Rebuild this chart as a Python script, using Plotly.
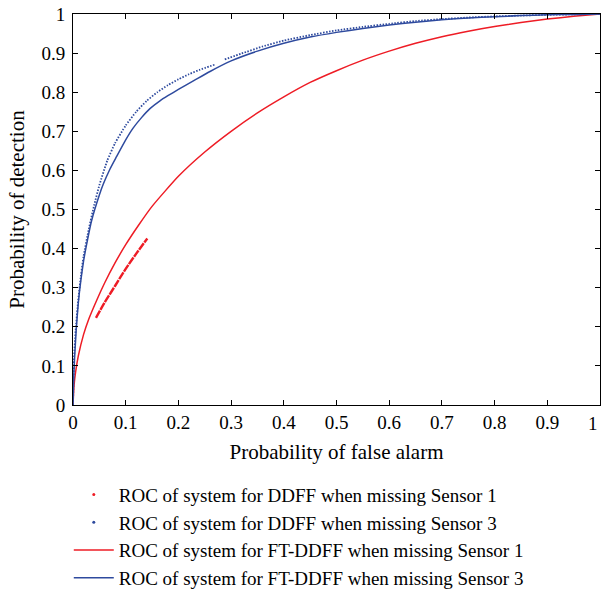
import plotly.graph_objects as go

# ---- data ----
# FT-DDFF, missing Sensor 1 (red solid)
ft_s1_x = [0, 0.002, 0.005, 0.01, 0.02, 0.03, 0.045, 0.06, 0.08, 0.1, 0.125, 0.15, 0.2, 0.25,
           0.3, 0.35, 0.4, 0.45, 0.5, 0.55, 0.6, 0.65, 0.7, 0.75, 0.8, 0.85, 0.9, 0.95, 1.0]
ft_s1_y = [0, 0.05, 0.085, 0.125, 0.18, 0.22, 0.268, 0.312, 0.364, 0.41, 0.461, 0.508, 0.585, 0.647,
           0.70, 0.747, 0.788, 0.825, 0.855, 0.882, 0.905, 0.925, 0.942, 0.956, 0.968, 0.978, 0.987, 0.994, 1.0]

# DDFF, missing Sensor 1 (red dotted, short segment)
dd_s1_x = [0.0436, 0.06, 0.08, 0.1, 0.12, 0.141]
dd_s1_y = [0.223, 0.262, 0.305, 0.348, 0.387, 0.426]

# FT-DDFF, missing Sensor 3 (blue solid)
ft_s3_x = [0, 0.001, 0.003, 0.006, 0.01, 0.015, 0.02, 0.025, 0.035, 0.05, 0.0575, 0.07, 0.0826, 0.1,
           0.114, 0.13, 0.146, 0.165, 0.18, 0.2, 0.23, 0.26, 0.3, 0.35, 0.4, 0.45, 0.5, 0.55, 0.6,
           0.65, 0.7, 0.75, 0.8, 0.85, 0.9, 0.95, 1.0]
ft_s3_y = [0, 0.06, 0.12, 0.19, 0.26, 0.32, 0.368, 0.405, 0.47, 0.537, 0.565, 0.603, 0.635, 0.678,
           0.708, 0.735, 0.758, 0.778, 0.791, 0.807, 0.83, 0.853, 0.88, 0.905, 0.925, 0.941, 0.953,
           0.963, 0.972, 0.979, 0.985, 0.99, 0.993, 0.996, 0.998, 0.999, 1.0]

# DDFF, missing Sensor 3 (blue dotted, two segments)
dd_s3_x_a = [0, 0.002, 0.005, 0.01, 0.015, 0.02, 0.03, 0.04, 0.05, 0.065, 0.08, 0.1, 0.12, 0.14,
             0.16, 0.18, 0.2, 0.22, 0.24, 0.27]
dd_s3_y_a = [0, 0.12, 0.19, 0.27, 0.33, 0.38, 0.45, 0.51, 0.562, 0.625, 0.67, 0.715, 0.75, 0.778,
             0.80, 0.818, 0.833, 0.846, 0.857, 0.871]
dd_s3_x_b = [0.288, 0.32, 0.36, 0.4, 0.45, 0.5, 0.55, 0.6, 0.65, 0.7, 0.75, 0.8, 0.85, 0.9, 0.95, 1.0]
dd_s3_y_b = [0.884, 0.899, 0.917, 0.932, 0.946, 0.958, 0.967, 0.975, 0.982, 0.987, 0.991, 0.994,
             0.996, 0.998, 0.999, 1.0]

tick_vals = [0, 0.1, 0.2, 0.3, 0.4, 0.5, 0.6, 0.7, 0.8, 0.9, 1]
tick_text = ["0", "0.1", "0.2", "0.3", "0.4", "0.5", "0.6", "0.7", "0.8", "0.9", "1"]
# the last x label is drawn right-aligned at the axis end so it stays inside the page
x_tick_text = tick_text[:-1] + [""]

names = [
    "ROC of system for DDFF when missing Sensor 1",
    "ROC of system for DDFF when missing Sensor 3",
    "ROC of system for FT-DDFF when missing Sensor 1",
    "ROC of system for FT-DDFF when missing Sensor 3",
]

RED = "#EE1C25"
BLUE = "#2E4A9E"
FONT = "Liberation Serif"

fig = go.Figure()

# legend-only entries for the dotted (point-style) series
fig.add_trace(go.Scatter(x=[None], y=[None], mode="markers", name=names[0],
                         marker=dict(color=RED, size=3)))
fig.add_trace(go.Scatter(x=[None], y=[None], mode="markers", name=names[1],
                         marker=dict(color=BLUE, size=3)))

fig.add_trace(go.Scatter(x=ft_s1_x, y=ft_s1_y, mode="lines", name=names[2],
                         line=dict(color=RED, width=1.5, shape="spline", smoothing=0.5)))
fig.add_trace(go.Scatter(x=ft_s3_x, y=ft_s3_y, mode="lines", name=names[3],
                         line=dict(color=BLUE, width=1.5, shape="spline", smoothing=0.5)))

fig.add_trace(go.Scatter(x=dd_s1_x, y=dd_s1_y, mode="lines", showlegend=False,
                         line=dict(color=RED, width=2.4, dash="8px,1px", shape="spline")))
fig.add_trace(go.Scatter(x=dd_s3_x_a + [None] + dd_s3_x_b, y=dd_s3_y_a + [None] + dd_s3_y_b,
                         mode="lines", showlegend=False, connectgaps=False,
                         line=dict(color=BLUE, width=1.8, dash="1.5px,1.5px", shape="spline",
                                   smoothing=0.5)))

axis_common = dict(
    range=[0, 1], showgrid=False, zeroline=False, showline=True, linecolor="black",
    linewidth=1, mirror="ticks", ticks="inside", ticklen=5, tickcolor="black",
    tickvals=tick_vals, automargin=False, ticklabeloverflow="allow",
    tickfont=dict(family=FONT, size=19, color="black"),
)

fig.update_layout(
    width=602, height=597,
    margin=dict(l=73, r=2, t=14, b=192, autoexpand=False),
    paper_bgcolor="white", plot_bgcolor="white",
    font=dict(family=FONT, size=19, color="black"),
    xaxis=dict(axis_common, ticktext=x_tick_text, ticklabelstandoff=0,
               title=dict(text="Probability of false alarm",
                          font=dict(family=FONT, size=21), standoff=12)),
    yaxis=dict(axis_common, ticktext=tick_text, ticklabelstandoff=3,
               title=dict(text="Probability of detection",
                          font=dict(family=FONT, size=21), standoff=11)),
    legend=dict(x=-0.008, y=-0.181, xanchor="left", yanchor="top",
                font=dict(family=FONT, size=19), bgcolor="rgba(0,0,0,0)",
                tracegroupgap=0, itemwidth=40),
    showlegend=True,
    annotations=[dict(text=tick_text[-1], x=tick_vals[-1], xref="x", y=0, yref="paper",
                      xanchor="right", yanchor="top", yshift=-6, showarrow=False,
                      font=dict(family=FONT, size=19, color="black"))],
)

fig.write_html(
    "out.html",
    config={"displayModeBar": False},
    post_script="document.body.style.margin='0px';document.body.style.overflow='hidden';",
)
